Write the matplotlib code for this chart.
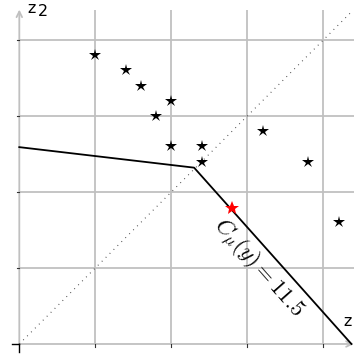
import numpy as np
import matplotlib.pyplot as plt

# data (grid unit = 1)
star_x = [1.0, 1.4, 1.6, 2.0, 1.8, 2.0, 2.4, 2.4, 3.2, 3.8, 4.2]
star_y = [3.8, 3.6, 3.4, 3.2, 3.0, 2.6, 2.6, 2.4, 2.8, 2.4, 1.6]
best_x = [2.8]
best_y = [1.79]
front_x = [0.0, 2.3, 4.37]
front_y = [2.59, 2.32, 0.0]
diag_x = [0.0, 4.35]
diag_y = [0.0, 4.35]
grid_ticks = [1, 2, 3, 4]
label_text = r"$C_\mu(y) = 11.5$"

plt.rcParams['mathtext.fontset'] = 'cm'

fig = plt.figure(figsize=(3.55, 3.56), dpi=100)
ax = fig.add_axes([0, 0, 1, 1])
ax.set_xlim(-0.254, 4.417)
ax.set_ylim(-0.158, 4.526)
ax.axis('off')

grid_col = '#c0c0c0'
# grid
ax.vlines(grid_ticks, 0, 4.4, color=grid_col, lw=1.3, zorder=1)
ax.hlines(grid_ticks, 0, 4.4, color=grid_col, lw=1.3, zorder=1)

# axes with arrows
ax.annotate('', xy=(0, 4.4), xytext=(0, 0),
            arrowprops=dict(arrowstyle='->', color=grid_col, lw=1.3,
                            shrinkA=0, shrinkB=0), zorder=1)
ax.annotate('', xy=(4.4, 0), xytext=(0, 0),
            arrowprops=dict(arrowstyle='->', color=grid_col, lw=1.3,
                            shrinkA=0, shrinkB=0), zorder=1)
# small tick marks
for t in grid_ticks:
    ax.plot([-0.03, 0], [t, t], color='#333333', lw=0.8, zorder=2)
    ax.plot([t, t], [-0.04, 0], color='#333333', lw=0.8, zorder=2)
ax.plot([-0.09, 0], [0, 0], color='black', lw=1.0, zorder=2)
ax.plot([0, 0], [0, -0.1], color='black', lw=1.0, zorder=2)

# dotted diagonal
ax.plot(diag_x, diag_y, color='#444444', lw=0.8, dashes=(0.8, 4.2), zorder=2)

# front line
ax.plot(front_x, front_y, color='black', lw=1.3, zorder=3)

# points
ax.plot(star_x, star_y, '*', color='black', ms=9, mew=0, zorder=4)
ax.plot(best_x, best_y, '*', color='red', ms=10, mew=0, zorder=4)

# labels
ax.text(3.14, 1.0, label_text, rotation=-48.5, rotation_mode='anchor',
        ha='center', va='center', fontsize=16.5, zorder=5)
ax.text(0.11, 4.36, "z", fontsize=11.5, ha='left', va='baseline')
ax.text(0.24, 4.32, "2", fontsize=11.5, ha='left', va='baseline')
ax.text(4.27, 0.24, "z", fontsize=11.5, ha='left', va='baseline')
ax.text(4.40, 0.20, "1", fontsize=11.5, ha='left', va='baseline')

fig.savefig('out.png', dpi=100)
